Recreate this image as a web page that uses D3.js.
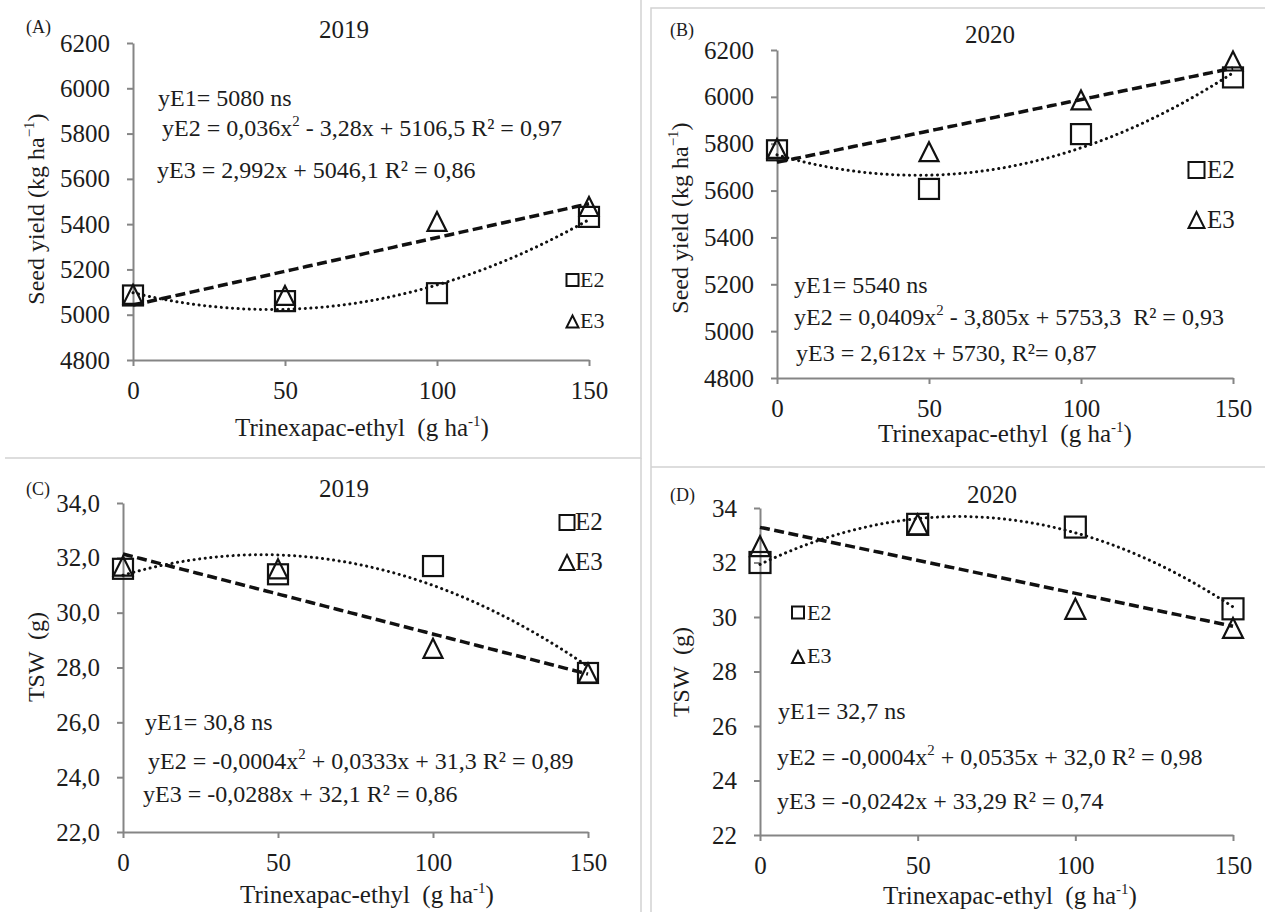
<!DOCTYPE html>
<html><head><meta charset="utf-8">
<script src="https://cdn.jsdelivr.net/npm/d3@7"></script>
<style>
body{margin:0;background:#fff}
svg{display:block}
text{font-family:"Liberation Serif","Times New Roman","DejaVu Serif",serif;fill:#1c1c1c}
</style>
</head><body>
<svg id="c" width="1265" height="912"></svg>
<script>
// ---------------- data ----------------
const doses = [0, 50, 100, 150];
const xTickValues = [0, 50, 100, 150];
const yieldTicks = [4800, 5000, 5200, 5400, 5600, 5800, 6000, 6200];
const tswTicks = [22, 24, 26, 28, 30, 32, 34];

const yieldE2_2019 = [5085, 5060, 5095, 5432];
const yieldE3_2019 = [5090, 5085, 5412, 5478];
const yieldE2_2020 = [5772, 5607, 5841, 6083];
const yieldE3_2020 = [5780, 5766, 5987, 6153];
const tswE2_2019 = [31.6, 31.4, 31.7, 27.8];
const tswE3_2019 = [31.7, 31.6, 28.7, 27.8];
const tswE2_2020 = [32.0, 33.4, 33.3, 30.3];
const tswE3_2020 = [32.6, 33.4, 30.3, 29.6];

const panelLetters = ["(A)", "(B)", "(C)", "(D)"];
const panelYears = ["2019", "2020", "2019", "2020"];
const legendLabels = ["E2", "E3"];

const eqA = ["yE1= 5080 ns", "yE2 = 0,036x^2 - 3,28x + 5106,5 R\u00b2 = 0,97", "yE3 = 2,992x + 5046,1 R\u00b2 = 0,86"];
const eqB = ["yE1= 5540 ns", "yE2 = 0,0409x^2 - 3,805x + 5753,3  R\u00b2 = 0,93", "yE3 = 2,612x + 5730, R\u00b2= 0,87"];
const eqC = ["yE1= 30,8 ns", "yE2 = -0,0004x^2 + 0,0333x + 31,3 R\u00b2 = 0,89", "yE3 = -0,0288x + 32,1 R\u00b2 = 0,86"];
const eqD = ["yE1= 32,7 ns", "yE2 = -0,0004x^2 + 0,0535x + 32,0 R\u00b2 = 0,98", "yE3 = -0,0242x + 33,29 R\u00b2 = 0,74"];

// ---------------- layout ----------------
const panels = [
  {e2: yieldE2_2019, e3: yieldE3_2019, eq: eqA, ticks: yieldTicks, domain: [4800, 6200], fmt: d3.format("d"),
   x0: 133, x1: 589, yTop: 43, yBot: 360, yTitle: "yield",
   letter: [26, 33], year: [344, 38], ytitle: [44, 209], xtitle: [235, 436],
   eqPos: [[158, 106], [162, 136], [157, 178]],
   leg: {x: 572.5, y1: 280, y2: 321.5, s: 12, tx: 580, b1: 287, b2: 328, fs: 22}, mk: 20},
  {e2: yieldE2_2020, e3: yieldE3_2020, eq: eqB, ticks: yieldTicks, domain: [4800, 6200], fmt: d3.format("d"),
   x0: 777, x1: 1233, yTop: 50, yBot: 378, yTitle: "yield",
   letter: [670, 36], year: [990, 43], ytitle: [688, 218], xtitle: [878, 442],
   eqPos: [[794, 293], [794, 325], [796, 361]],
   leg: {x: 1196.5, y1: 170, y2: 220, s: 16, tx: 1207, b1: 178, b2: 228, fs: 25}, mk: 20},
  {e2: tswE2_2019, e3: tswE3_2019, eq: eqC, ticks: tswTicks, domain: [22, 34], fmt: d => d3.format(".1f")(d).replace(".", ","),
   x0: 123, x1: 588, yTop: 503, yBot: 832, yTitle: "tsw",
   letter: [26, 495], year: [344, 497], ytitle: [44, 657], xtitle: [240, 903],
   eqPos: [[145, 730], [148, 769], [143, 802]],
   leg: {x: 567, y1: 522.5, y2: 562.5, s: 15, tx: 575, b1: 530, b2: 570, fs: 25}, mk: 20},
  {e2: tswE2_2020, e3: tswE3_2020, eq: eqD, ticks: tswTicks, domain: [22, 34], fmt: d3.format("d"),
   x0: 760, x1: 1233, yTop: 508, yBot: 835, yTitle: "tsw",
   letter: [670, 501], year: [992, 503], ytitle: [689, 672], xtitle: [883, 904],
   eqPos: [[778, 719], [777, 765], [777, 809]],
   leg: {x: 798, y1: 612.5, y2: 657, s: 12, tx: 807, b1: 620, b2: 663, fs: 22}, mk: 21}
];

const svg = d3.select("#c");
const AXIS = "#858585";
const INK = "#111";
const EQ_SIZE = 24;
const TXT_SIZE = 25;

// panel frames (light grey)
const frame = svg.append("g").attr("stroke", "#d2d2d2").attr("stroke-width", 1.5).attr("fill", "none");
frame.append("path").attr("d", "M5,458H641V0");
frame.append("path").attr("d", "M641,458V912");
frame.append("path").attr("d", "M651,912V8H1265");
frame.append("path").attr("d", "M651,467H1265");

// least squares fits (trendlines computed from the plotted points)
function fitLinear(xs, ys) {
  const mx = d3.mean(xs), my = d3.mean(ys);
  const b = d3.sum(xs, (v, i) => (v - mx) * (ys[i] - my)) / d3.sum(xs, v => (v - mx) ** 2);
  return t => my + b * (t - mx);
}
function fitQuadratic(xs, ys) {
  const S = k => d3.sum(xs, v => v ** k);
  const T = k => d3.sum(xs, (v, i) => v ** k * ys[i]);
  const A = [[S(0), S(1), S(2)], [S(1), S(2), S(3)], [S(2), S(3), S(4)]];
  const B = [T(0), T(1), T(2)];
  const n = 3, M = A.map((r, i) => r.concat([B[i]]));
  for (let i = 0; i < n; i++) {
    for (let j = i + 1; j < n; j++) {
      const f = M[j][i] / M[i][i];
      for (let k = i; k <= n; k++) M[j][k] -= f * M[i][k];
    }
  }
  const c = [0, 0, 0];
  for (let i = n - 1; i >= 0; i--) {
    let s = M[i][n];
    for (let k = i + 1; k < n; k++) s -= M[i][k] * c[k];
    c[i] = s / M[i][i];
  }
  return t => c[0] + c[1] * t + c[2] * t * t;
}

function addEquation(g, str, x, y, fs) {
  const t = g.append("text").attr("x", x).attr("y", y).attr("font-size", fs).attr("xml:space", "preserve");
  const parts = str.split("^2");
  const shift = fs * 0.4;
  parts.forEach((p, i) => {
    const ts = t.append("tspan").text(p);
    if (i > 0) ts.attr("dy", shift);
    if (i < parts.length - 1) {
      t.append("tspan").attr("font-size", fs * 0.62).attr("dy", -shift).text("2");
    }
  });
}

function trianglePath(cx, cy, w, h) {
  return `M${cx},${cy - h / 2}L${cx + w / 2},${cy + h / 2}L${cx - w / 2},${cy + h / 2}Z`;
}

panels.forEach((p, idx) => {
  const g = svg.append("g");
  const x = d3.scaleLinear().domain([0, 150]).range([p.x0, p.x1]);
  const y = d3.scaleLinear().domain(p.domain).range([p.yBot, p.yTop]);

  const gy = g.append("g").attr("transform", `translate(${p.x0},0)`)
    .call(d3.axisLeft(y).tickValues(p.ticks).tickSize(6).tickSizeOuter(0).tickPadding(17).tickFormat(p.fmt));
  const gx = g.append("g").attr("transform", `translate(0,${p.yBot})`)
    .call(d3.axisBottom(x).tickValues(xTickValues).tickSize(6).tickSizeOuter(0).tickPadding(15).tickFormat(d3.format("d")));
  [gx, gy].forEach(a => {
    a.attr("color", AXIS).attr("font-size", TXT_SIZE).attr("font-family", '"Liberation Serif","Times New Roman",serif');
    a.select(".domain").attr("stroke-width", 2);
    a.selectAll(".tick line").attr("stroke-width", 2);
    a.selectAll(".tick text").attr("fill", "#1c1c1c");
  });

  g.append("text").attr("x", p.letter[0]).attr("y", p.letter[1]).attr("font-size", 18).text(panelLetters[idx]);
  g.append("text").attr("x", p.year[0]).attr("y", p.year[1]).attr("font-size", TXT_SIZE).attr("text-anchor", "middle").text(panelYears[idx]);

  const yt = g.append("text").attr("transform", `translate(${p.ytitle[0]},${p.ytitle[1]}) rotate(-90)`)
    .attr("text-anchor", "middle").attr("font-size", 24).attr("xml:space", "preserve");
  if (p.yTitle === "yield") {
    yt.append("tspan").text("Seed yield (kg ha");
    yt.append("tspan").attr("font-size", 15).attr("dy", -10).text("\u22121");
    yt.append("tspan").attr("dy", 10).text(")");
  } else {
    yt.append("tspan").text("TSW  (g)");
  }
  const xt = g.append("text").attr("x", p.xtitle[0]).attr("y", p.xtitle[1]).attr("font-size", TXT_SIZE).attr("xml:space", "preserve");
  xt.append("tspan").text("Trinexapac-ethyl  (g ha");
  xt.append("tspan").attr("font-size", 15).attr("dy", -10).text("-1");
  xt.append("tspan").attr("dy", 10).text(")");

  p.eq.forEach((s, i) => addEquation(g, s, p.eqPos[i][0], p.eqPos[i][1], EQ_SIZE));

  const samples = d3.range(0, 150.01, 1.5);
  const qf = fitQuadratic(doses, p.e2);
  const lf = fitLinear(doses, p.e3);
  g.append("path").attr("d", d3.line().x(d => x(d)).y(d => y(qf(d)))(samples))
    .attr("fill", "none").attr("stroke", INK).attr("stroke-width", 3)
    .attr("stroke-dasharray", "0.1,5.5").attr("stroke-linecap", "round");
  g.append("path").attr("d", d3.line().x(d => x(d)).y(d => y(lf(d)))(samples))
    .attr("fill", "none").attr("stroke", INK).attr("stroke-width", 3.5)
    .attr("stroke-dasharray", "10,4.5");

  const m = p.mk;
  g.selectAll(".sq").data(doses).enter().append("rect")
    .attr("x", d => x(d) - m / 2).attr("y", (d, i) => y(p.e2[i]) - m / 2)
    .attr("width", m).attr("height", m).attr("fill", "none").attr("stroke", INK).attr("stroke-width", 2.2);
  g.selectAll(".tr").data(doses).enter().append("path")
    .attr("d", (d, i) => trianglePath(x(d), y(p.e3[i]), m - 1, m - 1))
    .attr("fill", "none").attr("stroke", INK).attr("stroke-width", 2.2);

  const L = p.leg;
  g.append("rect").attr("x", L.x - L.s / 2).attr("y", L.y1 - L.s / 2).attr("width", L.s).attr("height", L.s)
    .attr("fill", "none").attr("stroke", INK).attr("stroke-width", 2);
  g.append("path").attr("d", trianglePath(L.x, L.y2, L.s, L.s)).attr("fill", "none").attr("stroke", INK).attr("stroke-width", 2);
  g.append("text").attr("x", L.tx).attr("y", L.b1).attr("font-size", L.fs).text(legendLabels[0]);
  g.append("text").attr("x", L.tx).attr("y", L.b2).attr("font-size", L.fs).text(legendLabels[1]);
});
</script>
</body></html>
